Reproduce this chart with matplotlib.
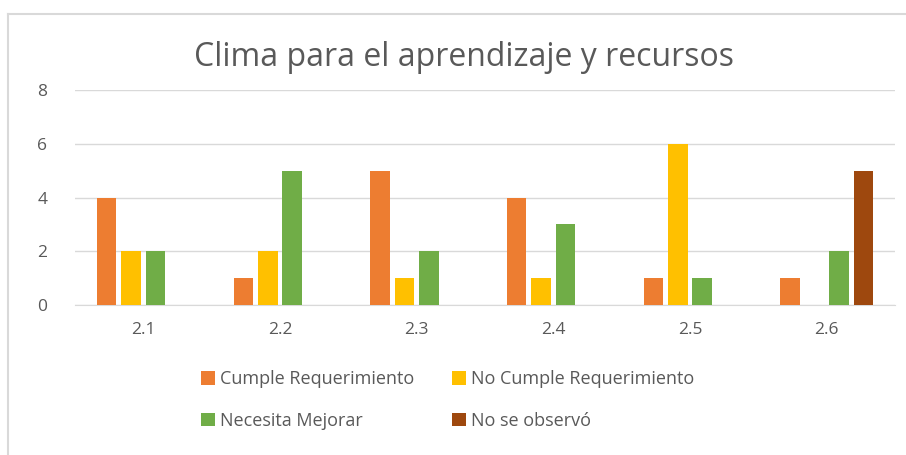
import numpy as np
import matplotlib.pyplot as plt
from matplotlib.lines import Line2D

plt.rcParams['font.family'] = ['Open Sans', 'DejaVu Sans']

categories = ['2.1', '2.2', '2.3', '2.4', '2.5', '2.6']
series_names = ['Cumple Requerimiento', 'No Cumple Requerimiento',
                'Necesita Mejorar', 'No se observó']
cumple = [4, 1, 5, 4, 1, 1]
no_cumple = [2, 2, 1, 1, 6, 0]
necesita = [2, 5, 2, 3, 1, 2]
no_observo = [0, 0, 0, 0, 0, 5]
colors = ['#ED7D31', '#FFC000', '#70AD47', '#9E480E']

fig = plt.figure(figsize=(9.06, 4.55), dpi=100)
ax = fig.add_axes([75 / 906, 1 - 305 / 455, 820 / 906, 215 / 455])

x = np.arange(len(categories))
pitch = 0.179
width = 0.143
values = [cumple, no_cumple, necesita, no_observo]
bars = []
for i, (vals, name, col) in enumerate(zip(values, series_names, colors)):
    b = ax.bar(x + (i - 1.5) * pitch, vals, width, color=col, label=name, zorder=3)
    bars.append(b)

ax.set_xlim(-0.5, len(categories) - 0.5)
ax.set_ylim(0, 8)
ax.set_yticks([0, 2, 4, 6, 8])
ax.set_xticks(x)
ax.set_xticklabels(categories)
ax.grid(axis='y', color='#d9d9d9', linewidth=1, zorder=0)
for s in ['top', 'right', 'left']:
    ax.spines[s].set_visible(False)
ax.spines['bottom'].set_color('#d9d9d9')
ax.tick_params(length=0, labelsize=12.5, colors='#595959', pad=12)
ax.tick_params(axis='y', pad=20)

fig.text(464 / 906, 1 - 58 / 455, 'Clima para el aprendizaje y recursos',
         ha='center', va='center', fontsize=23, color='#595959')

# legend is filled row by row in the reference
order = [0, 2, 1, 3]
fig.legend([bars[i] for i in order], [series_names[i] for i in order],
           loc='center', bbox_to_anchor=(448 / 906, 1 - 400 / 455), ncol=2,
           frameon=False, fontsize=13, labelcolor='#595959',
           handlelength=0.75, handleheight=0.75, handletextpad=0.3,
           columnspacing=2.1, labelspacing=1.3)

# chart frame (left and top edges)
fig.add_artist(Line2D([8 / 906, 8 / 906], [0, 1 - 14 / 455], color='#d9d9d9', lw=1.5))
fig.add_artist(Line2D([8 / 906, 1], [1 - 14 / 455, 1 - 14 / 455], color='#d9d9d9', lw=1.5))

fig.savefig('out.png', dpi=100)
